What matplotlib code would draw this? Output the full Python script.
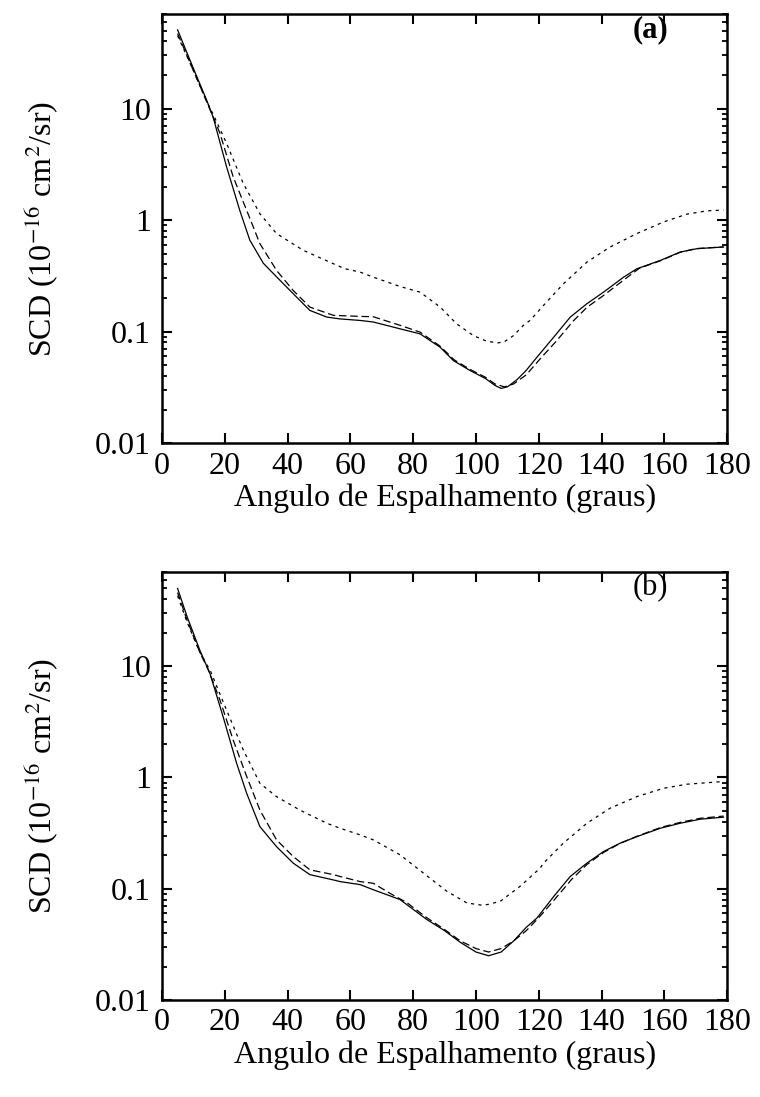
import matplotlib
matplotlib.use("Agg")
import matplotlib.pyplot as plt
from matplotlib.ticker import LogLocator, NullFormatter, FixedLocator, FixedFormatter

plt.rcParams['font.family'] = ['Liberation Serif', 'DejaVu Serif']
plt.rcParams['mathtext.fontset'] = 'stix'

# --- painel (a) ---
a_solid_x = [5, 10, 14.2, 16.3, 20.6, 24.8, 28, 32.3, 36.5, 41.8, 47.1, 52.5, 56.7, 63.1, 67.3,
             75.8, 82.2, 88.6, 92.8, 98, 103, 106, 108, 110, 113, 116, 119.4, 124.7, 130,
             135.3, 140.6, 147, 151.2, 158.7, 165, 170.3, 178.8]
a_solid_y = [50.7, 23, 12, 8.4, 3.0, 1.22, 0.66, 0.41, 0.31, 0.219, 0.155, 0.135, 0.130, 0.126, 0.122,
             0.106, 0.0955, 0.0724, 0.055, 0.045, 0.038, 0.033, 0.031, 0.032, 0.037, 0.045, 0.059, 0.089, 0.135,
             0.178, 0.226, 0.308, 0.366, 0.435, 0.517, 0.554, 0.574]

a_dash_x = [5, 10, 14, 18.5, 22.7, 27, 31.2, 36.5, 41.8, 47.1, 54.6, 63, 67.3, 75.8, 82.2, 88.6,
            93, 98, 103, 106, 109, 112, 116, 120.4, 125.7, 131, 135.3, 140.6, 147, 152, 159, 165,
            170, 178.8]
a_dash_y = [47, 22, 12, 5.98, 2.44, 1.22, 0.615, 0.354, 0.234, 0.166, 0.14, 0.137, 0.136, 0.114, 0.099, 0.074,
            0.056, 0.046, 0.039, 0.034, 0.032, 0.034, 0.041, 0.057, 0.083, 0.125, 0.165, 0.211, 0.29, 0.37, 0.435, 0.515,
            0.555, 0.575]

a_dot_x = [5, 10, 14, 16.3, 20.6, 25.9, 31.2, 36.5, 45, 54.6, 58.3, 63.1, 67.3, 75.8, 82.2, 88.6,
           93.9, 99.2, 103, 106.6, 109, 111.9, 115.1, 117.2, 121.5, 127.8, 135.3, 142.7, 151.2, 159.7,
           167.1, 173.5, 178.8]
a_dot_y = [45, 22, 12, 8.9, 4.87, 2.13, 1.14, 0.757, 0.536, 0.406, 0.366, 0.342, 0.308, 0.254, 0.226, 0.166,
           0.117, 0.092, 0.083, 0.079, 0.081, 0.092, 0.114, 0.126, 0.172, 0.268, 0.42, 0.574, 0.757, 0.962,
           1.13, 1.21, 1.23]

# --- painel (b) ---
b_solid_x = [5, 8, 12.1, 15.3, 19.5, 23.8, 27, 31.2, 36.5, 41.8, 47.1, 54.6, 56.7, 63.1, 67.3, 75.8,
             84.3, 90, 95, 100, 104, 108, 112, 116, 119.4, 124.7, 130, 135.3, 140.6, 145.9, 151.2,
             158.7, 165, 171.4, 178.8]
b_solid_y = [50, 28, 13.9, 8.6, 3.51, 1.34, 0.72, 0.362, 0.239, 0.17, 0.134, 0.12, 0.116, 0.109, 0.098, 0.080,
             0.053, 0.042, 0.033, 0.027, 0.025, 0.027, 0.034, 0.045, 0.0546, 0.085, 0.129, 0.17, 0.216, 0.257, 0.294,
             0.35, 0.388, 0.422, 0.44]

b_dash_x = [5, 8, 12, 15, 18.5, 22.7, 27, 31.2, 36.5, 41.8, 47.1, 54.6, 56.7, 63.1, 67.3, 72.6, 78,
            84.3, 90, 95, 100, 104, 108, 112, 116, 120, 125, 130.5, 135.3, 140.6, 146, 151.2, 158.7,
            165, 171.4, 178.8]
b_dash_y = [46, 26, 13.5, 9.0, 4.96, 2.17, 1.02, 0.51, 0.275, 0.195, 0.148, 0.134, 0.129, 0.116, 0.112, 0.091, 0.075,
            0.055, 0.043, 0.034, 0.029, 0.027, 0.029, 0.034, 0.042, 0.055, 0.08, 0.122, 0.165, 0.212, 0.257, 0.296, 0.355,
            0.395, 0.43, 0.45]

b_dot_x = [5, 8, 12, 15.5, 20.6, 25.9, 31.2, 36.5, 43.9, 52.5, 56.7, 63.1, 67.3, 75.8, 83.3, 90.7,
           97.1, 102.4, 107.7, 114, 115.1, 120.4, 121.5, 127.8, 135.3, 142.7, 151.2, 159.7, 167.1, 177.8]
b_dot_y = [43, 25, 13.5, 9.0, 4.03, 1.77, 0.887, 0.673, 0.51, 0.388, 0.35, 0.305, 0.275, 0.202, 0.138, 0.095,
           0.0745, 0.0708, 0.077, 0.105, 0.112, 0.153, 0.17, 0.257, 0.388, 0.53, 0.673, 0.80, 0.87, 0.916]

xticks = [0, 20, 40, 60, 80, 100, 120, 140, 160, 180]
yticks = [0.01, 0.1, 1, 10]
ytick_labels = ['0.01', '0.1', '1', '10']

fig = plt.figure(figsize=(7.6, 10.97), dpi=100)
ax_a = fig.add_axes([0.213, 0.596, 0.744, 0.391])
ax_b = fig.add_axes([0.213, 0.0884, 0.744, 0.390])

panels = [
    (ax_a, 'a', 'bold', (a_solid_x, a_solid_y), (a_dash_x, a_dash_y), (a_dot_x, a_dot_y)),
    (ax_b, 'b', 'normal', (b_solid_x, b_solid_y), (b_dash_x, b_dash_y), (b_dot_x, b_dot_y)),
]

for ax, tag, weight, sol, das, dot in panels:
    ax.plot(sol[0], sol[1], color='black', lw=0.9, ls='-')
    ax.plot(das[0], das[1], color='black', lw=0.9, ls=(0, (6, 3)))
    ax.plot(dot[0], dot[1], color='black', lw=0.9, ls=(0, (2.5, 3.5)))
    ax.set_yscale('log')
    ax.set_xlim(0, 180)
    ax.set_ylim(0.01, 70)
    ax.xaxis.set_major_locator(FixedLocator(xticks))
    ax.yaxis.set_major_locator(FixedLocator(yticks))
    ax.yaxis.set_major_formatter(FixedFormatter(ytick_labels))
    ax.yaxis.set_minor_locator(LogLocator(base=10, subs=range(2, 10)))
    ax.yaxis.set_minor_formatter(NullFormatter())
    ax.tick_params(which='major', direction='in', length=7, width=1.5, top=True, right=True,
                   labelsize=23)
    ax.tick_params(axis='y', which='major', pad=8)
    ax.tick_params(axis='x', which='major', pad=6)
    ax.tick_params(which='minor', direction='in', length=3.5, width=1.3, top=False, right=True)
    for sp in ax.spines.values():
        sp.set_linewidth(1.8)
    ax.set_xlabel('Angulo de Espalhamento (graus)', fontsize=23, labelpad=2)
    ax.set_ylabel(r'SCD (10$^{-16}$ cm$^{2}$/sr)', fontsize=23, labelpad=25)
    ax.text(0.864, 0.965, '(' + tag + ')', transform=ax.transAxes, fontsize=22,
            fontweight=weight, ha='center', va='center')

fig.savefig('out.png', dpi=100)
